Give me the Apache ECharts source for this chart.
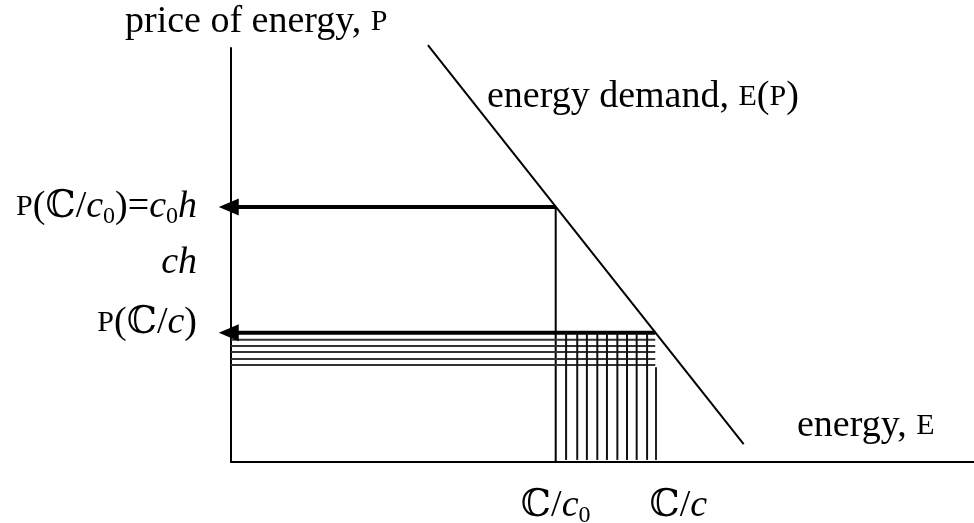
<!DOCTYPE html>
<html>
<head>
<meta charset="utf-8">
<script src="https://cdn.jsdelivr.net/npm/echarts@6/dist/echarts.min.js"></script>
<style>
  html, body { margin: 0; padding: 0; background: #fff; }
  #main { width: 974px; height: 523px; }
</style>
</head>
<body>
<div id="main"></div>
<script>
// demand curve E(P), end points as [E, P]
var demandLine = [[2.65, 10.07], [6.90, 0.43]];
// energy levels C/c0 and C/c
var energyLevels = [4.37, 5.71];
// prices P(C/c0) and P(C/c)
var priceLevels = [6.16, 3.12];
var chLevel = 4.81;
// hatching of the shaded block
var hatchPrices = [2.95, 2.80, 2.66, 2.49, 2.34];
var hatchEnergies = [4.51, 4.66, 4.79, 4.93, 5.06, 5.20, 5.33, 5.46, 5.60];
var lastHatch = [5.72, 2.29];
var arrowTipE = -0.03;

var serif = '"Liberation Serif", "Times New Roman", "DejaVu Serif", serif';

// main text gets a tall line box so bottom-aligned subscripts drop below it
var rich = {
  n: { fontFamily: serif, fontSize: 38, lineHeight: 44, color: '#000' },
  i: { fontFamily: serif, fontSize: 38, lineHeight: 44, fontStyle: 'italic', color: '#000' },
  sc: { fontFamily: serif, fontSize: 30, lineHeight: 44, color: '#000' },
  sub: { fontFamily: serif, fontSize: 24, lineHeight: 24, color: '#000', verticalAlign: 'bottom' },
  up: { fontFamily: serif, fontSize: 38, lineHeight: 44, color: '#000', padding: [0, 0, 20, 0] },
  upsc: { fontFamily: serif, fontSize: 30, lineHeight: 44, color: '#000', padding: [0, 0, 20, 0] },
  upi: { fontFamily: serif, fontSize: 38, lineHeight: 44, fontStyle: 'italic', color: '#000', padding: [0, 0, 20, 0] },
  shift: { fontFamily: serif, fontSize: 38, lineHeight: 44, color: '#000', padding: [0, 0, 0, 46] }
};

var near = function (a, b) { return Math.abs(a - b) < 0.01; };

var chartDom = document.getElementById('main');
var myChart = echarts.init(chartDom);

var seg = function (data, width, color) {
  return {
    type: 'line',
    data: data,
    symbol: 'none',
    clip: false,
    silent: true,
    lineStyle: { color: color || '#000', width: width },
    z: 3
  };
};

var series = [];
series.push(seg(demandLine, 2));
series.push(seg([[energyLevels[0], priceLevels[0]], [0, priceLevels[0]]], 4));
series.push(seg([[energyLevels[0], priceLevels[0]], [energyLevels[0], 0]], 2));
series.push(seg([[energyLevels[1], priceLevels[1]], [0, priceLevels[1]]], 4));
hatchPrices.forEach(function (p) {
  series.push(seg([[0, p], [energyLevels[1], p]], 2, '#333'));
});
hatchEnergies.forEach(function (e) {
  series.push(seg([[e, priceLevels[1]], [e, 0.05]], 2, '#111'));
});
series.push(seg([[lastHatch[0], lastHatch[1]], [lastHatch[0], 0.05]], 2, '#222'));
series.push({
  type: 'scatter',
  silent: true,
  clip: false,
  symbol: 'triangle',
  symbolRotate: 90,
  symbolSize: [17, 20],
  itemStyle: { color: '#000', opacity: 1 },
  data: priceLevels.map(function (p) { return [arrowTipE, p]; }),
  z: 10
});

var option = {
  animation: false,
  grid: { left: 231, right: 0, top: 48, bottom: 61, outerBoundsMode: 'none', containLabel: false },
  xAxis: {
    type: 'value',
    min: 0,
    max: 10,
    splitLine: { show: false },
    axisTick: { show: false },
    axisLine: { show: true, lineStyle: { color: '#000', width: 2 } },
    axisLabel: {
      customValues: energyLevels,
      margin: 22,
      rich: rich,
      formatter: function (v) {
        if (near(v, energyLevels[0])) return '{n|ℂ/}{i|c}{sub|0}';
        return '{shift|ℂ/}{i|c}';
      }
    }
  },
  yAxis: {
    type: 'value',
    min: 0,
    max: 10,
    splitLine: { show: false },
    axisTick: { show: false },
    axisLine: { show: true, lineStyle: { color: '#000', width: 2 } },
    axisLabel: {
      customValues: [priceLevels[1], chLevel, priceLevels[0]],
      margin: 34,
      rich: rich,
      formatter: function (v) {
        if (near(v, priceLevels[0])) return '{sc|P}{n|(ℂ/}{i|c}{sub|0}{n|)=}{i|c}{sub|0}{i|h}';
        if (near(v, chLevel)) return '{i|ch}';
        return '{upsc|P}{up|(ℂ/}{upi|c}{up|)}';
      }
    }
  },
  graphic: [
    {
      type: 'text', x: 125, y: 22, silent: true,
      style: { text: '{n|price of energy, }{sc|P}', rich: rich, verticalAlign: 'middle' }
    },
    {
      type: 'text', x: 487, y: 97, silent: true,
      style: { text: '{n|energy demand, }{sc|E}{n|(}{sc|P}{n|)}', rich: rich, verticalAlign: 'middle' }
    },
    {
      type: 'text', x: 797, y: 426, silent: true,
      style: { text: '{n|energy, }{sc|E}', rich: rich, verticalAlign: 'middle' }
    }
  ],
  series: series
};

myChart.setOption(option);
</script>
</body>
</html>
